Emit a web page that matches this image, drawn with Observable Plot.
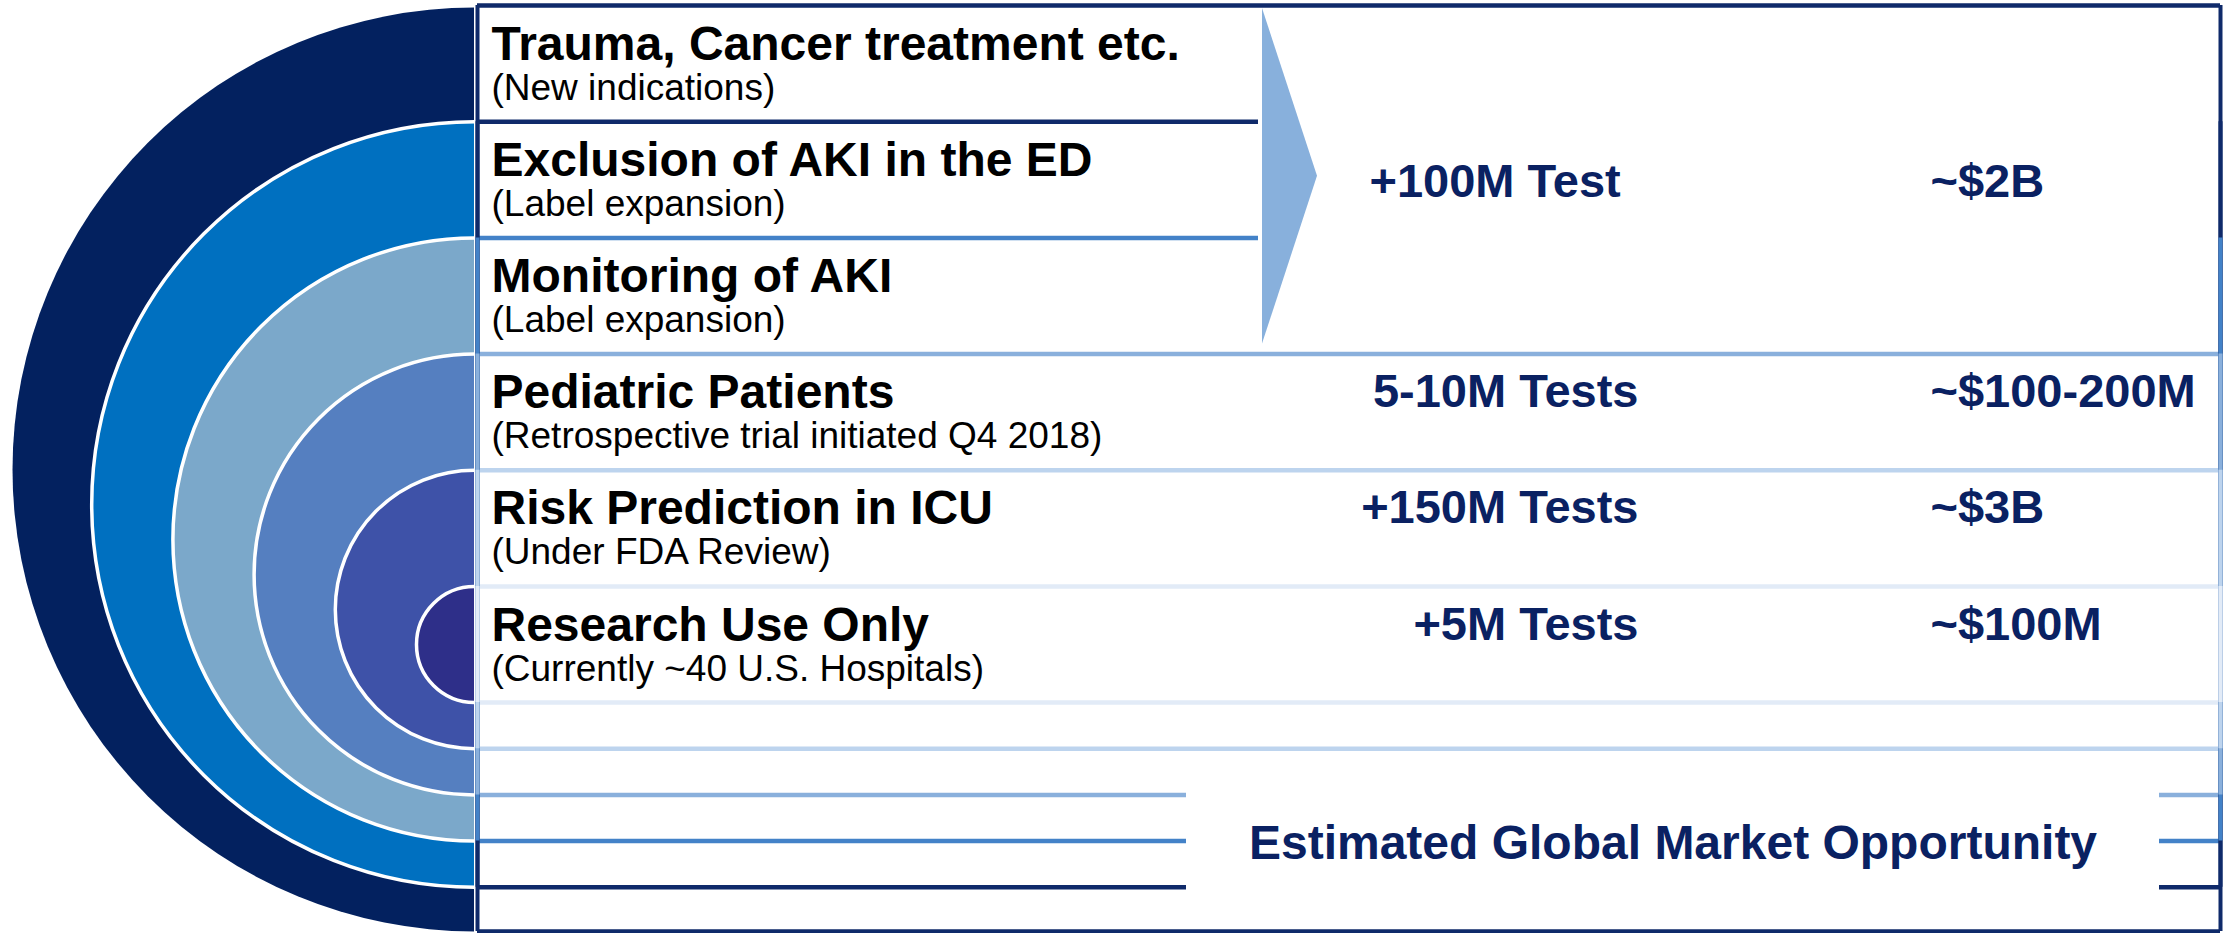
<!DOCTYPE html>
<html><head><meta charset="utf-8">
<script src="https://cdn.jsdelivr.net/npm/d3@7"></script>
<script src="https://cdn.jsdelivr.net/npm/@observablehq/plot@0.6"></script>
<style>html,body{margin:0;padding:0;background:#fff;} svg{display:block;}</style>
</head><body><div id="chart"></div>
<script>
// ---- data ----
const titles = ["Trauma, Cancer treatment etc.", "Exclusion of AKI in the ED", "Monitoring of AKI", "Pediatric Patients", "Risk Prediction in ICU", "Research Use Only"];
const subtitles = ["(New indications)", "(Label expansion)", "(Label expansion)", "(Retrospective trial initiated Q4 2018)", "(Under FDA Review)", "(Currently ~40 U.S. Hospitals)"];
const testVolumes = ["+100M Test", "5-10M Tests", "+150M Tests", "+5M Tests"];
const marketSizes = ["~$2B", "~$100-200M", "~$3B", "~$100M"];
const valueRows = [[0, 1, 2], [3], [4], [5]];
const ringColors = ["#03215f", "#0070c0", "#7ba8ca", "#557fc0", "#3e52a8", "#2e2f89"];
const edgeColors = ["#0f2a6a", "#0f2a6a", "#4382c8", "#8ab0dc", "#bdd4ee", "#e2ebf7"];
const caption = "Estimated Global Market Opportunity";

// ---- layout ----
const W = 2233, H = 933;
const boxL = 477, boxR = 2220, ringCx = 474;
const top0 = 5, rowH = 116.2, innerBottom = 702, botStep = 46.2;
const titleX = 491, testRight = 1638, testMergedX = 1369, marketX = 1930;
const arrowX = 1262, arrowTip = 1317;
const captionY = 843, gap = [1186, 2159];
const FONT = "'Liberation Sans', Arial, sans-serif";
const NAVY = "#0a2162";
const n = ringColors.length;

const tops = d3.range(n).map(k => top0 + k * rowH);
const bots = d3.range(n).map(k => innerBottom + (n - 1 - k) * botStep);
const rings = d3.range(n).map(k => ({k, cx: ringCx, cy: (tops[k] + bots[k]) / 2, r: (bots[k] - tops[k]) / 2 - (k === 0 ? 2 : 0), fill: ringColors[k]}));

const merged = new Set(valueRows.filter(g => g.length > 1).flatMap(g => g.slice(1)));
const hSegs = [], vSegs = [];
for (let k = 0; k < n; k++) {
  const c = edgeColors[k];
  hSegs.push({y: tops[k], x1: boxL, x2: merged.has(k) ? arrowX - 4 : boxR, c});
  const yb = Math.min(bots[k], H - 2);
  if (Math.abs(yb - captionY) < 60) {
    hSegs.push({y: yb, x1: boxL, x2: gap[0], c});
    hSegs.push({y: yb, x1: gap[1], x2: boxR, c});
  } else hSegs.push({y: yb, x1: boxL, x2: boxR, c});
  vSegs.push({x: boxL, y1: tops[k], y2: yb, c});
  vSegs.push({x: boxR, y1: tops[k], y2: yb, c});
}

const rows = titles.map((t, i) => ({t, s: subtitles[i], top: tops[i]}));
const vals = valueRows.map((g, i) => {
  const yTop = tops[g[0]], yBot = tops[g[g.length - 1]] + rowH;
  const base = g.length > 1 ? (yTop + yBot) / 2 + 0.36 * 47 : yTop + 53;
  return {test: testVolumes[i], market: marketSizes[i], y: base, merged: g.length > 1};
});
const mTop = tops[valueRows[0][0]] + 3, mBot = tops[valueRows[0].length] - 10;
const arrow = [{x: arrowX, y1: mTop, y2: mBot}, {x: arrowTip, y1: (mTop + mBot) / 2, y2: (mTop + mBot) / 2}];

const chart = Plot.plot({
  width: W, height: H, margin: 0,
  style: {background: "white", fontFamily: FONT},
  x: {domain: [0, W], range: [0, W], axis: null},
  y: {domain: [0, H], range: [0, H], axis: null},
  r: {type: "linear", domain: [0, 1000], range: [0, 1000]},
  color: {type: "identity"},
  marks: [
    Plot.dot(rings.filter(d => d.k === 0), {x: "cx", y: "cy", r: "r", fill: "fill"}),
    Plot.dot(rings.filter(d => d.k > 0), {x: "cx", y: "cy", r: "r", fill: "fill", stroke: "white", strokeWidth: 3.5}),
    Plot.rect([0], {x1: ringCx, x2: W, y1: 0, y2: H, fill: "white"}),
    Plot.ruleY(hSegs, {y: "y", x1: "x1", x2: "x2", stroke: "c", strokeWidth: 4.5}),
    Plot.ruleX(vSegs, {x: "x", y1: "y1", y2: "y2", stroke: "c", strokeWidth: 4}),
    Plot.areaY(arrow, {x: "x", y1: "y1", y2: "y2", fill: "#88b0dc"}),
    Plot.text(rows, {x: titleX, y: d => d.top + 54, text: "t", textAnchor: "start", lineAnchor: "bottom", fontSize: 48, fontWeight: "bold", fill: "black"}),
    Plot.text(rows, {x: titleX, y: d => d.top + 94, text: "s", textAnchor: "start", lineAnchor: "bottom", fontSize: 37, fill: "black"}),
    Plot.text(vals.filter(d => !d.merged), {x: testRight, y: "y", text: "test", textAnchor: "end", lineAnchor: "bottom", fontSize: 47, fontWeight: "bold", fill: NAVY}),
    Plot.text(vals.filter(d => d.merged), {x: testMergedX, y: "y", text: "test", textAnchor: "start", lineAnchor: "bottom", fontSize: 47, fontWeight: "bold", fill: NAVY}),
    Plot.text(vals, {x: marketX, y: "y", text: "market", textAnchor: "start", lineAnchor: "bottom", fontSize: 47, fontWeight: "bold", fill: NAVY}),
    Plot.text([caption], {x: (gap[0] + gap[1]) / 2, y: captionY + 0.36 * 48 - 2, text: d => d, textAnchor: "middle", lineAnchor: "bottom", fontSize: 48, fontWeight: "bold", fill: NAVY})
  ]
});
document.getElementById("chart").appendChild(chart);
</script>
</body></html>
